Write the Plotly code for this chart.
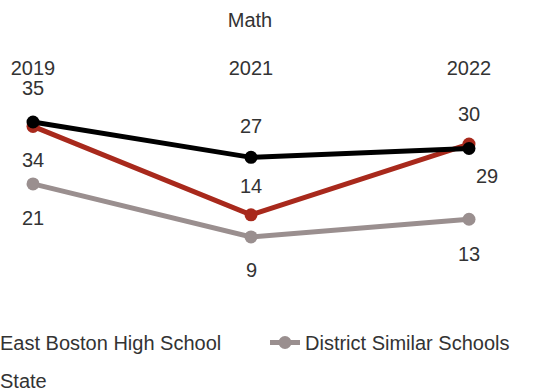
import plotly.graph_objects as go

years = ["2019", "2021", "2022"]
east_boston = [34, 14, 30]
district = [21, 9, 13]
state = [35, 27, 29]

RED = "#A8291C"
GRAY = "#9A8F8F"
BLACK = "#000000"
FONT = "Liberation Sans"
TXT = "#333333"
FS = 20

W, H = 558, 392
T, B = 80, 92
PH = H - T - B

def py(pix):
    """container pixel row -> paper y"""
    return (H - B - pix) / PH

fig = go.Figure()

def add(name, vals, color, legend):
    fig.add_trace(go.Scatter(
        x=years, y=vals, name=name, mode="lines+markers",
        line=dict(color=color, width=5),
        marker=dict(color=color, size=13),
        legend=legend, hoverinfo="skip"))

add("District Similar Schools", district, GRAY, "legend3")
add("East Boston High School", east_boston, RED, "legend")
add("State", state, BLACK, "legend2")

# data labels: (series, shifts per point)
label_specs = [
    (state, [(0, 34), (0, 31), (18, -27)]),
    (east_boston, [(0, -34), (0, 29), (0, 30)]),
    (district, [(0, -34), (0, -33), (0, -35)]),
]
for vals, shifts in label_specs:
    for i, (v, (dx, dy)) in enumerate(zip(vals, shifts)):
        fig.add_annotation(x=i, y=v, xref="x", yref="y", text=str(v),
                           showarrow=False, xshift=dx, yshift=dy,
                           font=dict(family=FONT, size=FS, color=TXT))

leg_common = dict(orientation="h", xref="paper", yref="paper",
                  xanchor="left", yanchor="top",
                  font=dict(family=FONT, size=FS, color=TXT),
                  bgcolor="rgba(0,0,0,0)")

fig.update_layout(
    width=W, height=H,
    title=dict(text="Math", x=250 / W, y=1 - 20 / H, xanchor="center",
               yanchor="middle", xref="container", yref="container",
               font=dict(family=FONT, size=FS, color=TXT)),
    margin=dict(l=0, r=0, t=T, b=B, autoexpand=False),
    paper_bgcolor="white", plot_bgcolor="white",
    font=dict(family=FONT, size=FS, color=TXT),
    xaxis=dict(type="category", side="top", range=[-33 / 218, 2 + 89 / 218],
               showgrid=False, zeroline=False, showline=False, ticks="",
               tickfont=dict(family=FONT, size=FS, color=TXT)),
    yaxis=dict(range=[-5.27, 44.5], visible=False),
    legend=dict(x=-40 / W, y=py(323), **leg_common),
    legend3=dict(x=265 / W, y=py(323), **leg_common),
    legend2=dict(x=-40 / W, y=py(361), **leg_common),
    showlegend=True,
)

fig.write_html("out.html", config={"displayModeBar": False},
               post_script="document.body.style.margin='0';")
